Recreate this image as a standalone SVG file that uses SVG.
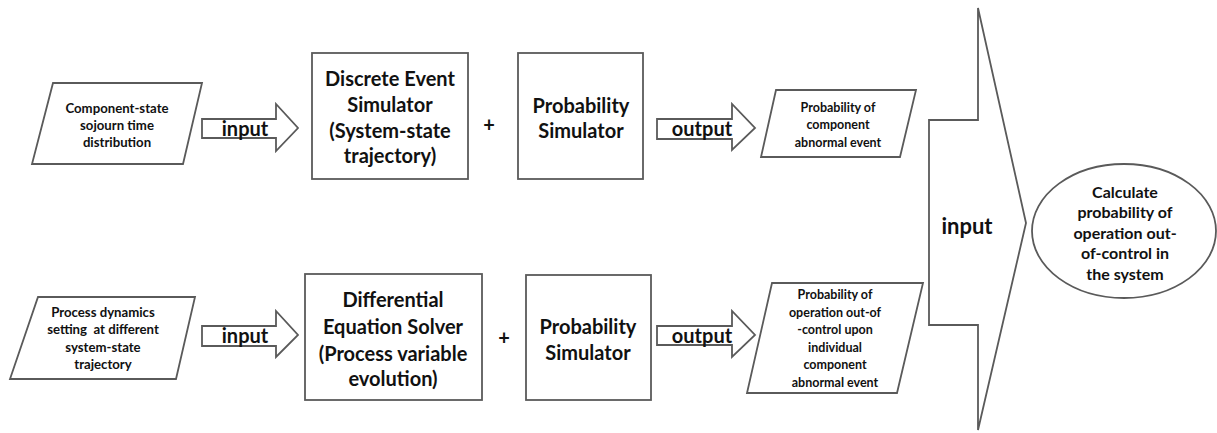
<svg xmlns="http://www.w3.org/2000/svg" width="1217" height="433" viewBox="0 0 1217 433">
<style>
.sh{fill:#fff;stroke:#5a5a5a;stroke-width:1.8;stroke-linejoin:miter}
.t{font-family:Lato,"Liberation Sans",sans-serif;font-weight:bold;fill:#111;text-anchor:middle;dominant-baseline:central;white-space:pre}
.s11{font-size:12.5px}.s12{font-size:13.2px}.s19{font-size:20px}.s20{font-size:20px}.s15{font-size:16px}.s22{font-size:22px}
</style>
<rect width="1217" height="433" fill="#fff"/>
<g id="connectors">
<polygon class="sh" points="202,119 276,119 276,104 298,128 276,151 276,138 202,138"/>
<text class="t s20" x="245" y="128">input</text>
<polygon class="sh" points="657,119 732,119 732,104 755,128 732,150 732,139 657,139"/>
<text class="t s20" x="702" y="128">output</text>
<polygon class="sh" points="202,326 276,326 276,311 298,335 276,357 276,346 202,346"/>
<text class="t s20" x="245" y="335">input</text>
<polygon class="sh" points="657,326 732,326 732,311 755,335 732,357 732,345 657,345"/>
<text class="t s20" x="702" y="335">output</text>
<polygon class="sh" points="978,8 1026,223 978,430 978,325 929,325 929,120 978,120"/>
<text class="t s22" x="967" y="225">input</text>
<text class="t s20" x="489" y="124">+</text>
<text class="t s20" x="504" y="337">+</text>
</g>
<g id="n-sojourn">
<polygon class="sh" points="53,83 202,83 183,164 32,164"/>
<text class="t s12" x="117" y="108">Component-state</text>
<text class="t s12" x="117" y="125">sojourn time</text>
<text class="t s12" x="117" y="142">distribution</text>
</g>
<g id="n-des">
<rect class="sh" x="312" y="53" width="156" height="126"/>
<text class="t s19" x="390" y="78">Discrete Event</text>
<text class="t s19" x="390" y="104">Simulator</text>
<text class="t s19" x="390" y="130">(System-state</text>
<text class="t s19" x="390" y="155">trajectory)</text>
</g>
<g id="n-prob1">
<rect class="sh" x="518" y="53" width="125" height="126"/>
<text class="t s19" x="581" y="105">Probability</text>
<text class="t s19" x="581" y="130">Simulator</text>
</g>
<g id="n-out1">
<polygon class="sh" points="776,90 916,90 900,157 761,157"/>
<text class="t s11" x="838" y="107">Probability of</text>
<text class="t s11" x="838" y="124">component</text>
<text class="t s11" x="838" y="142">abnormal event</text>
</g>
<g id="n-process">
<polygon class="sh" points="38,297 195,297 176,379 10,379"/>
<text class="t s12" x="103" y="312">Process dynamics</text>
<text class="t s12" x="103" y="329">setting  at different</text>
<text class="t s12" x="103" y="347">system-state</text>
<text class="t s12" x="103" y="364">trajectory</text>
</g>
<g id="n-des2">
<rect class="sh" x="305" y="274" width="177" height="126"/>
<text class="t s19" x="393" y="299">Differential</text>
<text class="t s19" x="393" y="326">Equation Solver</text>
<text class="t s19" x="393" y="353">(Process variable</text>
<text class="t s19" x="393" y="378">evolution)</text>
</g>
<g id="n-prob2">
<rect class="sh" x="526" y="275" width="125" height="125"/>
<text class="t s19" x="588" y="326">Probability</text>
<text class="t s19" x="588" y="352">Simulator</text>
</g>
<g id="n-out2">
<polygon class="sh" points="772,283 923,283 897,393 747,393"/>
<text class="t s11" x="835" y="294">Probability of</text>
<text class="t s11" x="835" y="312">operation out-of</text>
<text class="t s11" x="835" y="329">-control upon</text>
<text class="t s11" x="835" y="347">individual</text>
<text class="t s11" x="835" y="364">component</text>
<text class="t s11" x="835" y="382">abnormal event</text>
</g>
<g id="n-calc">
<ellipse class="sh" cx="1124" cy="231" rx="92" ry="67"/>
<text class="t s15" x="1125" y="191">Calculate</text>
<text class="t s15" x="1125" y="211">probability of</text>
<text class="t s15" x="1125" y="232">operation out-</text>
<text class="t s15" x="1125" y="252">of-control in</text>
<text class="t s15" x="1125" y="273">the system</text>
</g>
</svg>
